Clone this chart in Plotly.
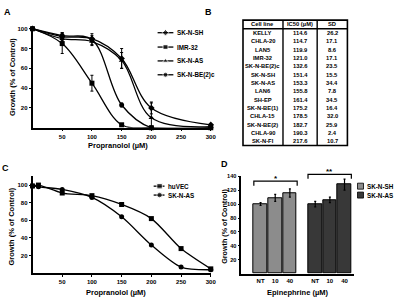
import plotly.graph_objects as go

W, H = 400, 301
def X(p): return p / W
def Y(p): return 1 - p / H

FONT = "Liberation Sans, Arial, sans-serif"

# ---------------- Panel A data ----------------
conc_a = [0, 50, 100, 150, 200, 300]
a_names = ["SK-N-SH", "IMR-32", "SK-N-AS", "SK-N-BE(2)c"]
a_symbols = ["diamond", "square", "triangle-up", "circle"]
a_sksh = [100, 92, 90, 70, 20, 3]
a_sksh_err = [0, 4, 3, 10, 6, 0]
a_imr = [100, 85, 45, 3, 0, 0]
a_imr_err = [0, 10, 8, 1, 0, 0]
a_skas = [100, 90, 87, 68, 10, 1]
a_skas_err = [0, 3, 3, 8, 15, 0]
a_be2c = [100, 93, 89, 23, 0, 0]
a_be2c_err = [0, 3, 6, 2, 0, 0]

# ---------------- Panel B data ----------------
b_header = ["Cell line", "IC50 (µM)", "SD"]
b_lines = ["KELLY", "CHLA-20", "LAN5", "IMR-32", "SK-N-BE(2)c", "SK-N-SH", "SK-N-AS",
           "LAN6", "SH-EP", "SK-N-BE(1)", "CHLA-15", "SK-N-BE(2)", "CHLA-90", "SK-N-FI"]
b_ic50 = ["114.6", "114.7", "119.9", "121.0", "132.6", "151.4", "153.3",
          "155.8", "161.4", "175.2", "178.5", "182.7", "190.3", "217.6"]
b_sd = ["26.2", "17.1", "8.6", "17.1", "23.5", "15.5", "34.4",
        "7.8", "34.5", "16.4", "32.0", "25.9", "2.4", "10.7"]

# ---------------- Panel C data ----------------
conc_c = [0, 10, 50, 100, 150, 200, 250, 300]
c_names = ["huVEC", "SK-N-AS"]
c_symbols = ["square", "circle"]
c_huvec = [99, 100, 91, 88, 78, 62, 28, 5]
c_skas = [99, 98, 95, 86, 64, 32, 7, 4]

# ---------------- Panel D data ----------------
d_doses = ["NT", "10", "40"]
d_names = ["SK-N-SH", "SK-N-AS"]
d_sksh = [100, 109, 116]
d_sksh_err = [2, 5, 6]
d_skas = [100, 106, 128]
d_skas_err = [4, 4, 8]
d_colors = ["#8c8c8c", "#383838"]
d_sig = ["*", "**"]

fig = go.Figure()

# Panel A traces
for name, sym, ys, es in zip(a_names, a_symbols,
                             [a_sksh, a_imr, a_skas, a_be2c],
                             [a_sksh_err, a_imr_err, a_skas_err, a_be2c_err]):
    fig.add_trace(go.Scatter(
        x=conc_a, y=ys, mode="lines+markers", name=name, showlegend=False,
        line=dict(color="black", width=1.3, shape="spline", smoothing=1.0),
        marker=dict(symbol=sym, size=5, color="black"),
        error_y=dict(type="data", array=es, color="black", thickness=1, width=1.5),
        cliponaxis=False, xaxis="x", yaxis="y"))

# Panel C traces
for name, sym, ys in zip(c_names, c_symbols, [c_huvec, c_skas]):
    fig.add_trace(go.Scatter(
        x=conc_c, y=ys, mode="lines+markers", name=name, showlegend=False,
        line=dict(color="black", width=1.3, shape="spline", smoothing=0.8),
        marker=dict(symbol=sym, size=5, color="black"),
        cliponaxis=False, xaxis="x2", yaxis="y2"))

# Panel D bars
step_gap = 3.73
pos = [[i for i in range(len(d_doses))],
       [i + step_gap for i in range(len(d_doses))]]
for g, (name, vals, errs) in enumerate(zip(d_names, [d_sksh, d_skas], [d_sksh_err, d_skas_err])):
    fig.add_trace(go.Bar(
        x=pos[g], y=vals, width=0.94, name=name, showlegend=False,
        marker=dict(color=d_colors[g], line=dict(color="black", width=1)),
        error_y=dict(type="data", array=errs, color="black", thickness=1.2, width=1),
        cliponaxis=False, xaxis="x3", yaxis="y3"))

# Legend samples on a pixel overlay axis
leg_a_y = [30, 44.5, 58.5, 72.5]
for sym, yy in zip(a_symbols, leg_a_y):
    fig.add_trace(go.Scatter(x=[160, 168, 176], y=[yy, yy, yy], mode="lines+markers",
                             line=dict(color="black", width=1.3),
                             marker=dict(symbol=sym, size=[0, 5, 0], color="black"),
                             showlegend=False, xaxis="x4", yaxis="y4", hoverinfo="skip"))
leg_c_y = [185, 194]
for sym, yy in zip(c_symbols, leg_c_y):
    fig.add_trace(go.Scatter(x=[156, 162, 167], y=[yy, yy, yy], mode="lines+markers",
                             line=dict(color="black", width=1.3),
                             marker=dict(symbol=sym, size=[0, 5.5, 0], color="black"),
                             showlegend=False, xaxis="x4", yaxis="y4", hoverinfo="skip"))
leg_d_y = [185, 194]
for col, yy in zip(d_colors, leg_d_y):
    fig.add_trace(go.Scatter(x=[366], y=[yy], mode="markers",
                             marker=dict(symbol="square", size=6, color=col,
                                         line=dict(color="black", width=0.8)),
                             showlegend=False, xaxis="x4", yaxis="y4", hoverinfo="skip"))

tickfont = dict(family=FONT, size=6, color="black", weight="bold")
axcommon = dict(showline=True, linecolor="black", linewidth=1.5, ticks="outside",
                ticklen=2, tickcolor="black", tickwidth=1, showgrid=False,
                zeroline=False, tickfont=tickfont, fixedrange=True)

fig.update_layout(
    width=W, height=H, margin=dict(l=0, r=0, t=0, b=0),
    paper_bgcolor="white", plot_bgcolor="rgba(0,0,0,0)", showlegend=False,
    bargap=0,
    xaxis=dict(domain=[X(33), X(214)], range=[0, 300], tickvals=[50, 100, 150, 200, 250, 300],
               anchor="y", **axcommon),
    yaxis=dict(domain=[Y(126), Y(26)], range=[0, 100], tickvals=[20, 40, 60, 80, 100],
               anchor="x", **axcommon),
    xaxis2=dict(domain=[X(33), X(214)], range=[0, 300], tickvals=[50, 100, 150, 200, 250, 300],
                anchor="y2", **axcommon),
    yaxis2=dict(domain=[Y(273), Y(175)], range=[0, 110], tickvals=[20, 40, 60, 80, 100],
                anchor="x2", **axcommon),
    xaxis3=dict(domain=[X(245), X(359)], range=[-1.313, 6.35],
                tickvals=pos[0] + pos[1], ticktext=d_doses + d_doses,
                anchor="y3", **{**axcommon, "ticks": ""}),
    yaxis3=dict(domain=[Y(273.4), Y(175)], range=[0, 140],
                tickvals=[20, 40, 60, 80, 100, 120, 140], anchor="x3",
                **{**axcommon, "tickfont": dict(family=FONT, size=5.6, color="black", weight="bold")}),
    xaxis4=dict(domain=[0, 1], range=[0, W], visible=False, anchor="y4", fixedrange=True),
    yaxis4=dict(domain=[0, 1], range=[H, 0], visible=False, anchor="x4", fixedrange=True),
)

ann = []
def text(x, y, s, size=6, xanchor="center", angle=0, bold=True):
    ann.append(dict(x=X(x), y=Y(y), xref="paper", yref="paper", text=s, showarrow=False,
                    xanchor=xanchor, yanchor="middle", textangle=angle,
                    font=dict(family=FONT, size=size, color="black",
                              weight="bold" if bold else "normal")))

# Panel letters
text(8, 9, "A", 9)
text(212, 9, "B", 9)
text(6, 167, "C", 9)
text(228, 163, "D", 9)

# Axis titles
text(12, 75, "Growth (% of Control)", 7.5, angle=-90)
text(120, 144, "Propranolol (µM)", 7.5)
text(12, 226, "Growth (% of Control)", 7.5, angle=-90)
text(118, 292, "Propranolol (µM)", 7.5)
text(228.5, 226, "Growth (% of Control)", 7.2, angle=-90)
text(302, 292, "Epinephrine (µM)", 7.5)

# Legends text
for name, yy in zip(a_names, leg_a_y):
    text(178, yy, name, 6.3, xanchor="left")
for name, yy in zip(c_names, leg_c_y):
    text(169, yy, name, 6.3, xanchor="left")
for name, yy in zip(d_names, leg_d_y):
    text(371, yy, name, 6.3, xanchor="left")

# Table B
tx0, tx1, tx2, tx3 = 246.7, 287.3, 322, 352.7
ty0, tyh, ty1 = 17.3, 26, 144
row_h = (ty1 - tyh) / len(b_lines)
col_c = [(tx0 + tx1) / 2, (tx1 + tx2) / 2, (tx2 + tx3) / 2]
for c, s in zip(col_c, b_header):
    text(c, (ty0 + tyh) / 2, s, 5.8)
for i, (a, b, c) in enumerate(zip(b_lines, b_ic50, b_sd)):
    yy = tyh + row_h * (i + 0.5)
    text(col_c[0], yy, a, 5.8)
    text(col_c[1], yy, b, 5.8)
    text(col_c[2], yy, c, 5.8)

shapes = []
def pline(x0, y0, x1, y1, w=1.5):
    shapes.append(dict(type="line", xref="paper", yref="paper", x0=X(x0), y0=Y(y0),
                       x1=X(x1), y1=Y(y1), line=dict(color="black", width=w)))
shapes.append(dict(type="rect", xref="paper", yref="paper", x0=X(tx0), y0=Y(ty0),
                   x1=X(tx3), y1=Y(ty1), line=dict(color="black", width=1.6)))
pline(tx0, tyh, tx3, tyh, 1.4)
pline(tx1, ty0, tx1, ty1, 1.4)
pline(tx2, ty0, tx2, ty1, 1.4)

# Significance brackets in panel D (paper coords, pixel positions)
def bracket(xa, xb, ytop, ybot, label, ylab):
    shapes.append(dict(type="path", xref="paper", yref="paper",
                       path=f"M {X(xa)},{Y(ybot)} L {X(xa)},{Y(ytop)} L {X(xb)},{Y(ytop)} L {X(xb)},{Y(ybot)}",
                       line=dict(color="black", width=1.2)))
    text((xa + xb) / 2, ylab, label, 8)
bracket(257.7, 301.7, 180, 184.5, d_sig[0], 177)
bracket(312.7, 356.7, 173, 177.5, d_sig[1], 170.5)

fig.update_layout(annotations=ann, shapes=shapes)
fig.write_html("out.html", config={"displayModeBar": False},
               post_script="document.body.style.margin='0px';document.body.style.padding='0px';")
